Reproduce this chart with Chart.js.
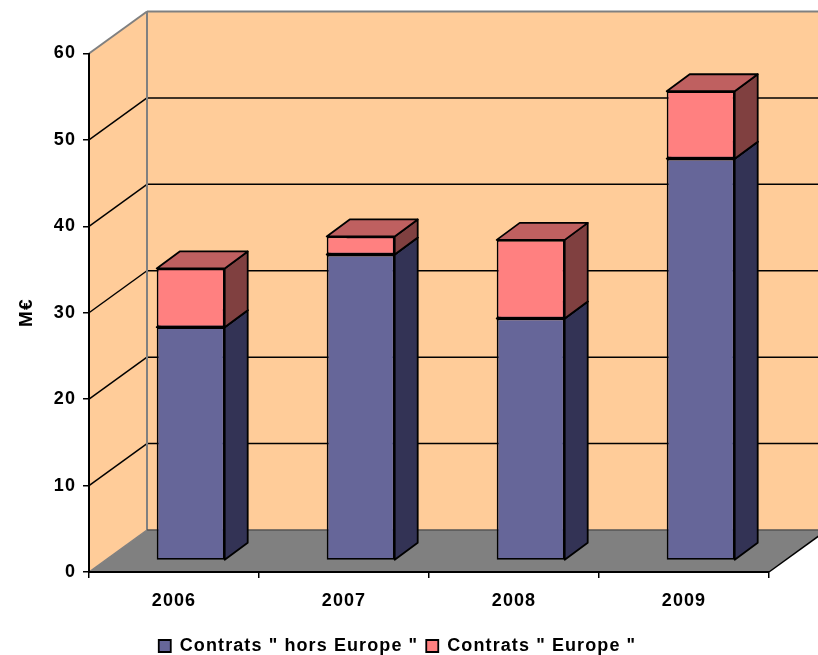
<!DOCTYPE html>
<html><head><meta charset="utf-8">
<style>html,body{margin:0;padding:0;background:#fff;overflow:hidden}canvas{display:block}</style>
<script src="https://cdn.jsdelivr.net/npm/chart.js@4"></script></head>
<body><canvas id="c" width="818" height="655"></canvas>
<script>
const categories = ['2006','2007','2008','2009'];
const horsEurope = [27, 35.4, 28, 46.5];
const europe = [6.8, 2.1, 9.1, 7.8];
const yTicks = [0,10,20,30,40,50,60];

const FONT = {family:'"Liberation Sans", Arial, sans-serif', size:18, weight:'bold'};
const SPACING = '1.1px';
const WALL = {dx:58, dy:-42};
const BAR_DEPTH = {dx:23, dy:-17};
const BAR_SHIFT = {dx:16.7, dy:-11.5};
const LEGEND_SHIFT = {dx:13, dy:10};
const shade = {'#666699':{side:'#333355',top:'#4d4d73'}, '#FF8080':{side:'#804040',top:'#BF6060'}};

function poly(ctx, pts, fill, stroke, lw){
  ctx.beginPath();
  pts.forEach((p,i)=> i?ctx.lineTo(p[0],p[1]):ctx.moveTo(p[0],p[1]));
  ctx.closePath();
  if(fill){ctx.fillStyle=fill;ctx.fill();}
  if(stroke){ctx.strokeStyle=stroke;ctx.lineWidth=lw;ctx.lineJoin='round';ctx.stroke();}
}
function line(ctx,x1,y1,x2,y2,c,lw){ctx.beginPath();ctx.moveTo(x1,y1);ctx.lineTo(x2,y2);ctx.strokeStyle=c;ctx.lineWidth=lw;ctx.stroke();}

const walls = {
  id:'walls',
  beforeUpdate(chart){ chart.ctx.letterSpacing=SPACING; },
  beforeLayout(chart){ chart.ctx.letterSpacing=SPACING; },
  afterLayout(chart){
    const lg=chart.legend;
    if(lg){ lg.top+=LEGEND_SHIFT.dy; lg.left+=LEGEND_SHIFT.dx; lg.right+=LEGEND_SHIFT.dx; }
  },
  beforeDraw(chart){
    const {ctx,chartArea:a,scales:{y}} = chart;
    ctx.letterSpacing=SPACING;
    const d=WALL, L=a.left,R=a.right,T=a.top,B=a.bottom;
    ctx.save();
    poly(ctx,[[L,T],[L+d.dx,T+d.dy],[R+d.dx,T+d.dy],[R+d.dx,B+d.dy],[L+d.dx,B+d.dy],[L,B]],'#FFCC99');
    poly(ctx,[[L,B],[L+d.dx,B+d.dy],[R+d.dx,B+d.dy],[R,B]],'#808080');
    yTicks.forEach(v=>{
      if(v===0||v===60) return;
      const py=y.getPixelForValue(v);
      line(ctx,L,py,L+d.dx,py+d.dy,'#000',1.5);
      line(ctx,L+d.dx,py+d.dy,R+d.dx,py+d.dy,'#000',1.5);
    });
    line(ctx,L,T,L+d.dx,T+d.dy,'#808080',2);
    line(ctx,L+d.dx,T+d.dy,R+d.dx,T+d.dy,'#808080',2);
    line(ctx,L+d.dx,T+d.dy,L+d.dx,B+d.dy,'#808080',2);
    line(ctx,L+d.dx,B+d.dy,R+d.dx,B+d.dy,'#555',1.5);
    line(ctx,L,B,L+d.dx,B+d.dy,'#808080',1.5);
    line(ctx,R,B,R+d.dx,B+d.dy,'#000',1.5);
    ctx.restore();
  },
  beforeDatasetsDraw(chart){
    const ctx=chart.ctx, d=BAR_DEPTH;
    ctx.save();
    ctx.translate(BAR_SHIFT.dx,BAR_SHIFT.dy);
    chart.data.datasets.forEach((ds,i)=>{
      chart.getDatasetMeta(i).data.forEach(el=>{
        const p=el.getProps(['x','y','base','width']);
        const l=p.x-p.width/2, r=p.x+p.width/2;
        const s=shade[ds.backgroundColor];
        poly(ctx,[[r,p.y],[r+d.dx,p.y+d.dy],[r+d.dx,p.base+d.dy],[r,p.base]],s.side,'#000',1.8);
        poly(ctx,[[l,p.y],[l+d.dx,p.y+d.dy],[r+d.dx,p.y+d.dy],[r,p.y]],s.top,'#000',1.8);
      });
    });
  },
  afterDatasetsDraw(chart){ chart.ctx.restore(); }
};

new Chart(document.getElementById('c'),{
  type:'bar',
  data:{labels:categories,datasets:[
    {label:'Contrats " hors Europe "',data:horsEurope,backgroundColor:'#666699',borderColor:'#000',borderWidth:1.8,borderSkipped:false,clip:false},
    {label:'Contrats " Europe "',data:europe,backgroundColor:'#FF8080',borderColor:'#000',borderWidth:1.8,borderSkipped:false,clip:false}
  ]},
  plugins:[walls],
  options:{
    responsive:false,animation:false,
    events:[],
    layout:{padding:{top:53.5,right:49,left:0,bottom:0}},
    datasets:{bar:{categoryPercentage:1,barPercentage:0.4}},
    plugins:{
      tooltip:{enabled:false},
      title:{display:false},
      legend:{position:'bottom',labels:{color:'#000',font:FONT,boxWidth:12,boxHeight:12,padding:8}}
    },
    scales:{
      x:{stacked:true,
        grid:{offset:true,drawOnChartArea:false,color:'#000',tickColor:'#000',tickLength:6,lineWidth:1.5},
        border:{color:'#000',width:2},
        ticks:{color:'#000',font:FONT,padding:12,maxRotation:0},
        afterFit(s){s.height=47;}
      },
      y:{stacked:true,min:0,max:60,
        grid:{drawOnChartArea:false,color:'#000',tickColor:'#000',tickLength:6,lineWidth:1.5},
        border:{color:'#000',width:2},
        ticks:{color:'#000',font:FONT,padding:7,stepSize:10,autoSkip:false},
        title:{display:true,text:'M€',color:'#000',font:{...FONT,size:19},padding:{top:15,bottom:0}},
        afterFit(s){s.width=89;}
      }
    }
  }
});
</script></body></html>
